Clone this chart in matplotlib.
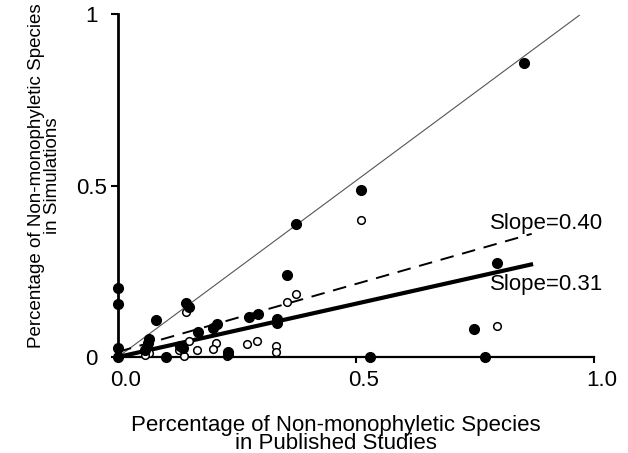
import matplotlib
matplotlib.use("Agg")
import matplotlib.pyplot as plt
import matplotlib.transforms as mtransforms

plt.rcParams['font.family'] = ['Liberation Sans', 'DejaVu Sans']

# Filled circles
filled_x = [0.853, 0.510, 0.374, 0.354, 0.0, 0.0, 0.143, 0.150, 0.080, 0.796,
            0.275, 0.295, 0.333, 0.333, 0.207, 0.200, 0.168, 0.066, 0.063, 0.130,
            0.137, 0.0, 0.0, 0.101, 0.231, 0.231, 0.530, 0.772, 0.748, 0.056]
filled_y = [0.858, 0.486, 0.389, 0.239, 0.201, 0.155, 0.157, 0.147, 0.108, 0.274,
            0.117, 0.126, 0.110, 0.098, 0.095, 0.084, 0.072, 0.052, 0.040, 0.031,
            0.026, 0.025, 0.0, 0.0, 0.016, 0.010, 0.0, 0.0, 0.083, 0.020]

# Open circles
open_x = [0.510, 0.796, 0.374, 0.354, 0.143, 0.150, 0.206, 0.199, 0.167, 0.272,
          0.293, 0.331, 0.331, 0.230, 0.139, 0.129, 0.066, 0.056]
open_y = [0.399, 0.089, 0.183, 0.159, 0.131, 0.046, 0.041, 0.024, 0.021, 0.039,
          0.048, 0.031, 0.015, 0.004, 0.004, 0.019, 0.012, 0.007]

# Lines
one_x = [0.0, 0.969]
one_y = [0.0, 0.996]
dash_x = [0.0, 0.869]
dash_y = [0.015, 0.359]
solid_x = [0.0, 0.872]
solid_y = [0.0, 0.271]

xticks = [0.0, 0.5, 1.0]
xticklabels = ['0.0', '0.5', '1.0']
yticks = [0.0, 0.5, 1.0]
yticklabels = ['0', '0.5', '1']

fig = plt.figure(figsize=(6.28, 4.53), dpi=100)
ax = fig.add_axes([118/628, (453-357)/453, (594-118)/628, (357-14)/453])
ax.set_xlim(0, 1)
ax.set_ylim(0, 1)

ax.plot(one_x, one_y, color='#555555', lw=0.8, zorder=2)
ax.plot(dash_x, dash_y, color='black', lw=1.4, dashes=(7, 4.5), zorder=2)
ax.plot(solid_x, solid_y, color='black', lw=3, zorder=2, solid_capstyle='butt')

ax.plot(filled_x, filled_y, 'o', color='black', ms=7, clip_on=False, zorder=4)
ax.plot(open_x, open_y, 'o', mfc='white', mec='black', mew=1.1, ms=5.5,
        clip_on=False, zorder=3)

ax.text(0.781, 0.373, 'Slope=0.40', fontsize=16, ha='left', va='baseline')
ax.text(0.781, 0.195, 'Slope=0.31', fontsize=16, ha='left', va='baseline')

for s in ['top', 'right']:
    ax.spines[s].set_visible(False)
ax.spines['left'].set_linewidth(2)
ax.spines['bottom'].set_linewidth(1.6)

ax.set_xticks(xticks)
ax.set_xticklabels(xticklabels, fontsize=16)
ax.set_yticks(yticks)
ax.set_yticklabels(yticklabels, fontsize=16, ha='center')
ax.tick_params(axis='x', direction='out', length=4, width=1.5, pad=5)
ax.tick_params(axis='y', direction='out', length=5, width=1.5, pad=14)

offset = mtransforms.ScaledTranslation(8/100, 0, fig.dpi_scale_trans)
for lbl in ax.get_xticklabels():
    lbl.set_transform(lbl.get_transform() + offset)

ax.set_xlabel('Percentage of Non-monophyletic Species\nin Published Studies',
              fontsize=16, linespacing=0.86)
ax.xaxis.set_label_coords(0.458, -0.168)
ax.set_ylabel('Percentage of Non-monophyletic Species\nin Simulations',
              fontsize=13.5, linespacing=0.88)
ax.yaxis.set_label_coords(-0.12, 0.53)

fig.savefig('out.png', dpi=100)
